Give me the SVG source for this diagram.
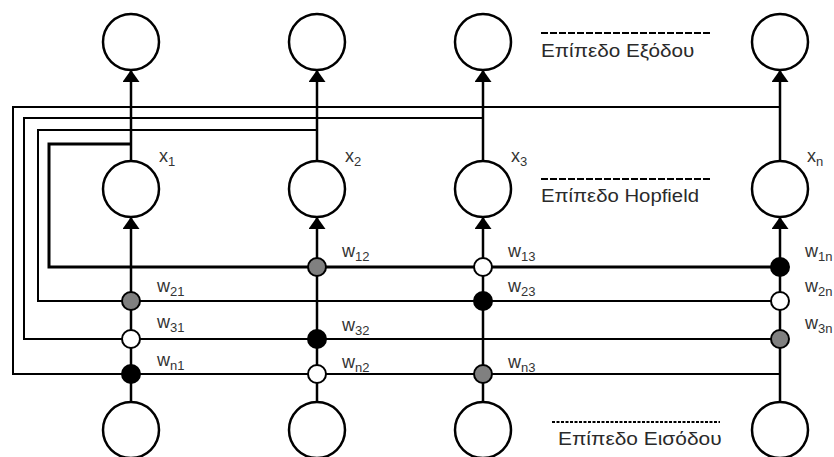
<svg xmlns="http://www.w3.org/2000/svg" width="834" height="457" viewBox="0 0 834 457">
  <style>
    .wire { fill: none; stroke: #000; stroke-width: 2; }
    .bold { stroke-width: 3; }
    .col { stroke-width: 2.5; }
    .neuron { fill: #fff; stroke: #000; stroke-width: 2.5; }
    .dot { stroke: #000; stroke-width: 2; }
    .pos { fill: #000; }
    .neg { fill: #fff; }
    .mid { fill: #808080; }
    .lbl { font-family: "Liberation Sans", Arial, sans-serif; font-size: 18px; fill: #333; }
    .sub { font-size: 13px; }
    .layer { font-family: "Liberation Sans", Arial, sans-serif; font-size: 18px; fill: #2a2a2a; }
    .rule { stroke: #000; stroke-width: 2; stroke-dasharray: 7 2; }
    .rule-dot { stroke: #000; stroke-width: 2; stroke-dasharray: 3 1.5; }
  </style>
  <defs>
    <marker id="tip" viewBox="0 0 12 17" refX="12" refY="8.5" markerWidth="12" markerHeight="17" markerUnits="userSpaceOnUse" orient="auto">
      <path d="M0,0 L12,8.5 L0,17 z" fill="#000"/>
    </marker>
  </defs>

  <g id="connectors">
    <!-- feedback loops from Hopfield outputs to weight rows -->
    <polyline class="wire" points="780,107 13,107 13,374 780,374"/>
    <polyline class="wire" points="483,118 24,118 24,339 780,339"/>
    <polyline class="wire" points="317,130 38,130 38,301 780,301"/>
    <polyline class="wire bold" points="131,144 49,144 49,267 780,267"/>

    <!-- input to Hopfield layer -->
    <line class="wire col" x1="131" y1="402" x2="131" y2="217" marker-end="url(#tip)"/>
    <line class="wire col" x1="317" y1="402" x2="317" y2="217" marker-end="url(#tip)"/>
    <line class="wire col" x1="483" y1="402" x2="483" y2="217" marker-end="url(#tip)"/>
    <line class="wire col" x1="780" y1="402" x2="780" y2="217" marker-end="url(#tip)"/>

    <!-- Hopfield to output layer -->
    <line class="wire col" x1="131" y1="161" x2="131" y2="70" marker-end="url(#tip)"/>
    <line class="wire col" x1="317" y1="161" x2="317" y2="70" marker-end="url(#tip)"/>
    <line class="wire col" x1="483" y1="161" x2="483" y2="70" marker-end="url(#tip)"/>
    <line class="wire col" x1="780" y1="161" x2="780" y2="70" marker-end="url(#tip)"/>
  </g>

  <g id="weights">
    <circle id="w21" class="dot mid" cx="131" cy="301" r="9"/>
    <circle id="w31" class="dot neg" cx="131" cy="339" r="9"/>
    <circle id="wn1" class="dot pos" cx="131" cy="374" r="9"/>
    <circle id="w12" class="dot mid" cx="317" cy="267" r="9"/>
    <circle id="w32" class="dot pos" cx="317" cy="339" r="9"/>
    <circle id="wn2" class="dot neg" cx="317" cy="374" r="9"/>
    <circle id="w13" class="dot neg" cx="483" cy="267" r="9"/>
    <circle id="w23" class="dot pos" cx="483" cy="301" r="9"/>
    <circle id="wn3" class="dot mid" cx="483" cy="374" r="9"/>
    <circle id="w1n" class="dot pos" cx="780" cy="267" r="9"/>
    <circle id="w2n" class="dot neg" cx="780" cy="301" r="9"/>
    <circle id="w3n" class="dot mid" cx="780" cy="339" r="9"/>
  </g>

  <g id="out1"><circle class="neuron" cx="131" cy="42" r="28"/></g>
  <g id="out2"><circle class="neuron" cx="317" cy="42" r="28"/></g>
  <g id="out3"><circle class="neuron" cx="483" cy="42" r="28"/></g>
  <g id="outn"><circle class="neuron" cx="780" cy="42" r="28"/></g>

  <g id="hop1"><circle class="neuron" cx="131" cy="189" r="28"/></g>
  <g id="hop2"><circle class="neuron" cx="317" cy="189" r="28"/></g>
  <g id="hop3"><circle class="neuron" cx="483" cy="189" r="28"/></g>
  <g id="hopn"><circle class="neuron" cx="780" cy="189" r="28"/></g>

  <g id="in1"><circle class="neuron" cx="131" cy="430" r="28"/></g>
  <g id="in2"><circle class="neuron" cx="317" cy="430" r="28"/></g>
  <g id="in3"><circle class="neuron" cx="483" cy="430" r="28"/></g>
  <g id="inn"><circle class="neuron" cx="780" cy="430" r="28"/></g>

  <g id="labels">
    <text class="lbl" x="159" y="162">x<tspan class="sub" dy="4">1</tspan></text>
    <text class="lbl" x="345" y="162">x<tspan class="sub" dy="4">2</tspan></text>
    <text class="lbl" x="511" y="162">x<tspan class="sub" dy="4">3</tspan></text>
    <text class="lbl" x="807" y="162">x<tspan class="sub" dy="4">n</tspan></text>

    <text class="lbl" x="342" y="257">w<tspan class="sub" dy="4">12</tspan></text>
    <text class="lbl" x="508" y="257">w<tspan class="sub" dy="4">13</tspan></text>
    <text class="lbl" x="805" y="257">w<tspan class="sub" dy="4">1n</tspan></text>

    <text class="lbl" x="157" y="292">w<tspan class="sub" dy="4">21</tspan></text>
    <text class="lbl" x="508" y="292">w<tspan class="sub" dy="4">23</tspan></text>
    <text class="lbl" x="805" y="292">w<tspan class="sub" dy="4">2n</tspan></text>

    <text class="lbl" x="157" y="328">w<tspan class="sub" dy="4">31</tspan></text>
    <text class="lbl" x="342" y="331">w<tspan class="sub" dy="4">32</tspan></text>
    <text class="lbl" x="805" y="329">w<tspan class="sub" dy="4">3n</tspan></text>

    <text class="lbl" x="157" y="366">w<tspan class="sub" dy="4">n1</tspan></text>
    <text class="lbl" x="342" y="368">w<tspan class="sub" dy="4">n2</tspan></text>
    <text class="lbl" x="508" y="368">w<tspan class="sub" dy="4">n3</tspan></text>
  </g>

  <!-- layer captions: the type is set a little wide -->
  <g id="layer-output">
    <line class="rule" x1="541" y1="33" x2="710" y2="33"/>
    <text class="layer" transform="translate(541,57) scale(1.15,1)">Επίπεδο Εξόδου</text>
  </g>
  <g id="layer-hopfield">
    <line class="rule" x1="541" y1="179" x2="710" y2="179"/>
    <text class="layer" transform="translate(541,202) scale(1.13,1)">Επίπεδο Hopfield</text>
  </g>
  <g id="layer-input">
    <line class="rule-dot" x1="552" y1="422" x2="720" y2="422"/>
    <text class="layer" style="font-size:19px" transform="translate(558,445) scale(1.1,1)">Επίπεδο Εισόδου</text>
  </g>
</svg>
